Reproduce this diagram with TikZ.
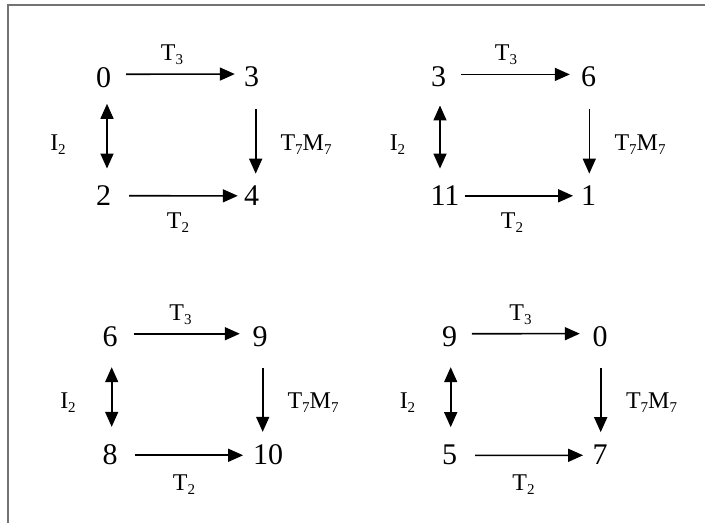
\documentclass[tikz,border=0pt]{standalone}
\usepackage{fontspec}
\setmainfont{Liberation Serif}
\usetikzlibrary{arrows.meta}
\definecolor{framegray}{RGB}{115,115,115}
\newcommand\lsub[1]{\raisebox{-4.5pt}{\fontsize{15}{15}\selectfont #1}}
\tikzset{
  num/.style={inner sep=0pt, anchor=base, font=\fontsize{30}{30}\selectfont},
  lbl/.style={inner sep=0pt, anchor=base, font=\fontsize{24}{26}\selectfont},
  harrow/.style={line width=1.6pt, -{Triangle[length=15pt,width=13pt]}},
  varrow/.style={line width=1.6pt, -{Triangle[length=15pt,width=13pt]}},
  darrow/.style={line width=1.6pt, {Triangle[length=15pt,width=13pt]}-{Triangle[length=15pt,width=13pt]}},
}
\begin{document}
\begin{tikzpicture}[x=1pt,y=-1pt]
\useasboundingbox (0,0) rectangle (705,523);
% frame
\draw[framegray, line width=2pt] (8.3,523) -- (8.3,5.2) -- (705,5.2);

% ---------- top left ----------
\node[num] (a1) at (103.5,87) {0};
\node[num] (b1) at (251.5,86.7) {3};
\node[num] (c1) at (103.5,205.7) {2};
\node[num] (d1) at (251.5,205.7) {4};
\node[lbl] (t31) at (172,60) {T\lsub{3}};
\node[lbl] (i21) at (58,150) {I\lsub{2}};
\node[lbl] (tm1) at (306,150) {T\lsub{7}M\lsub{7}};
\node[lbl] (t21) at (178,228) {T\lsub{2}};
\draw[harrow, shorten <=15pt, shorten >=9pt] ([yshift=2.9pt]a1.east) -- ([yshift=2.9pt]b1.west);
\draw[harrow, shorten <=18pt, shorten >=6pt] (c1.east) -- (d1.west);
\draw[darrow, shorten <=16.3pt, shorten >=17.1pt] ([xshift=3.5pt]a1.south) -- ([xshift=3.5pt]c1.north);
\draw[varrow, shorten <=21.6pt, shorten >=12.1pt] ([xshift=4.2pt]b1.south) -- ([xshift=4.2pt]d1.north);

% ---------- top right ----------
\node[num] (a2) at (438.5,86.7) {3};
\node[num] (b2) at (588.5,86.7) {6};
\node[num] (c2) at (445,205.7) {11};
\node[num] (d2) at (588.5,205.7) {1};
\node[lbl] (t32) at (506,60) {T\lsub{3}};
\node[lbl] (i22) at (397.5,150) {I\lsub{2}};
\node[lbl] (tm2) at (640,150) {T\lsub{7}M\lsub{7}};
\node[lbl] (t22) at (512,228) {T\lsub{2}};
\draw[harrow, shorten <=14.7pt, shorten >=11pt] ([yshift=2.5pt]a2.east) -- ([yshift=2.5pt]b2.west);
\draw[harrow, shorten <=5pt, shorten >=7.7pt] (c2.east) -- (d2.west);
\draw[darrow, shorten <=18.3pt, shorten >=17.1pt] ([xshift=1.5pt]a2.south) -- ([xshift=-5pt]c2.north);
\draw[varrow, shorten <=21.6pt, shorten >=12.1pt] ([xshift=0.8pt]b2.south) -- ([xshift=0.8pt]d2.north);

% ---------- bottom left ----------
\node[num] (a3) at (110,346.7) {6};
\node[num] (b3) at (260,346.7) {9};
\node[num] (c3) at (110,464.3) {8};
\node[num] (d3) at (268,464.3) {10};
\node[lbl] (t33) at (180.5,320) {T\lsub{3}};
\node[lbl] (i23) at (68,408) {I\lsub{2}};
\node[lbl] (tm3) at (313,408) {T\lsub{7}M\lsub{7}};
\node[lbl] (t23) at (184,490) {T\lsub{2}};
\draw[harrow, shorten <=15.8pt, shorten >=12.5pt] ([yshift=3.2pt]a3.east) -- ([yshift=3.2pt]b3.west);
\draw[harrow, shorten <=17.5pt, shorten >=9.7pt] ([yshift=-0.8pt]c3.east) -- ([yshift=-0.8pt]d3.west);
\draw[darrow, shorten <=20pt, shorten >=17.3pt] ([xshift=1.7pt]a3.south) -- ([xshift=1.7pt]c3.north);
\draw[varrow, shorten <=21pt, shorten >=12.3pt] ([xshift=2.7pt]b3.south) -- ([xshift=-5.3pt]d3.north);

% ---------- bottom right ----------
\node[num] (a4) at (449.5,346.7) {9};
\node[num] (b4) at (600,346.7) {0};
\node[num] (c4) at (449.5,464.3) {5};
\node[num] (d4) at (600,464.3) {7};
\node[lbl] (t34) at (520.5,320) {T\lsub{3}};
\node[lbl] (i24) at (407.5,408) {I\lsub{2}};
\node[lbl] (tm4) at (651.5,408) {T\lsub{7}M\lsub{7}};
\node[lbl] (t24) at (523.5,490) {T\lsub{2}};
\draw[harrow, shorten <=14.7pt, shorten >=12.5pt] ([yshift=3.2pt]a4.east) -- ([yshift=3.2pt]b4.west);
\draw[harrow, shorten <=18pt, shorten >=9.2pt] ([yshift=-0.8pt]c4.east) -- ([yshift=-0.8pt]d4.west);
\draw[darrow, shorten <=20pt, shorten >=17.3pt] ([xshift=1.2pt]a4.south) -- ([xshift=1.2pt]c4.north);
\draw[varrow, shorten <=21pt, shorten >=12.3pt] ([xshift=0.7pt]b4.south) -- ([xshift=0.7pt]d4.north);
\end{tikzpicture}
\end{document}
